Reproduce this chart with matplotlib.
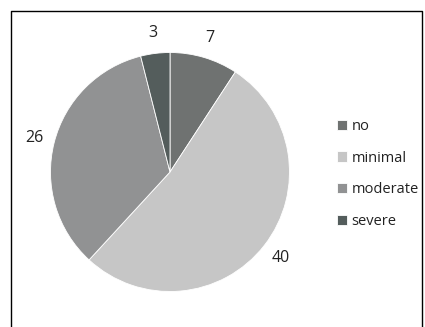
import matplotlib
matplotlib.use("Agg")
import matplotlib.pyplot as plt
from matplotlib.lines import Line2D

categories = ["no", "minimal", "moderate", "severe"]
values = [7, 40, 26, 3]
colors = ["#6f7271", "#c6c6c6", "#919293", "#545d5c"]

plt.rcParams['font.family'] = ['Open Sans', 'DejaVu Sans']

fig = plt.figure(figsize=(4.25, 3.27), dpi=100)
W, H = 425, 327

# outer frame (bottom edge is cut off in the original)
fx0, fx1, fy0 = 11 / W, 422 / W, 1 - 11 / H
fig.add_artist(Line2D([fx0, fx0, fx1, fx1], [-0.1, fy0, fy0, -0.1],
                      transform=fig.transFigure, color="black", lw=1.0))

cx, cy, r = 170, 172, 119.5
ax = fig.add_axes([(cx - r) / W, (H - cy - r) / H, 2 * r / W, 2 * r / H])
wedges, texts = ax.pie(values, colors=colors, startangle=90, counterclock=False,
                       labels=[str(v) for v in values], labeldistance=1.17,
                       wedgeprops=dict(edgecolor="white", linewidth=0.6),
                       textprops=dict(fontsize=11.5, color="#222222"))
for t in texts:
    t.set_ha("center")
    t.set_va("center")
ax.set_xlim(-1, 1)
ax.set_ylim(-1, 1)
ax.set_aspect("auto")

fig.legend(wedges, categories, loc="center left",
           bbox_to_anchor=(337 / W, 1 - 174 / H), frameon=False,
           fontsize=10.5, handlelength=0.7, handleheight=0.7,
           handletextpad=0.3, labelspacing=1.15, borderaxespad=0,
           borderpad=0, labelcolor="#222222")

fig.savefig("out.png", dpi=100)
